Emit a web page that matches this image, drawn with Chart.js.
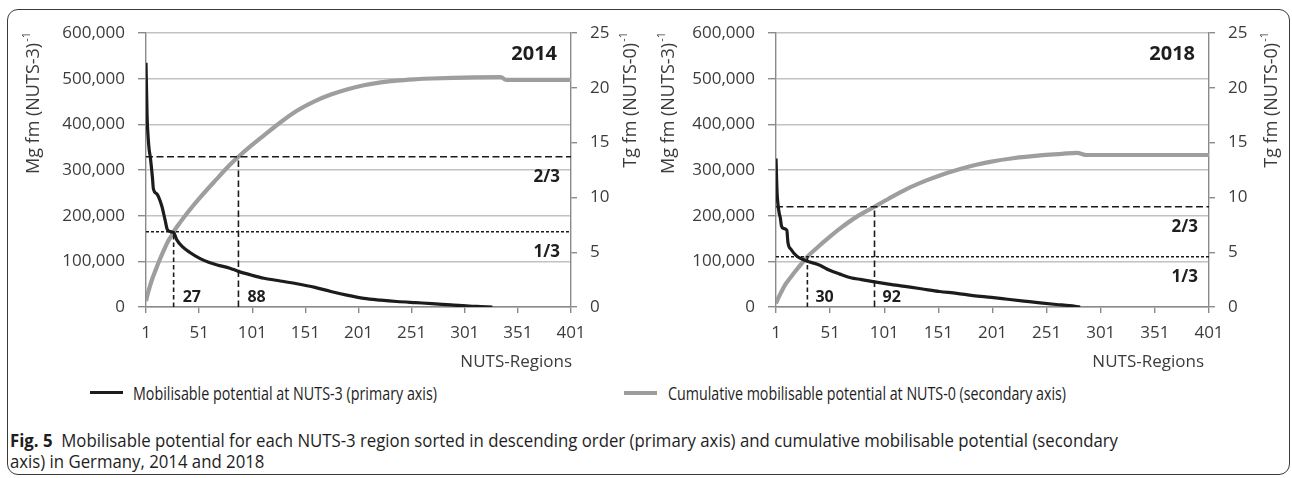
<!DOCTYPE html>
<html>
<head>
<meta charset="utf-8">
<script src="https://cdn.jsdelivr.net/npm/chart.js@4.4.1/dist/chart.umd.min.js"></script>
<style>
  html, body { margin: 0; padding: 0; background: #fff; }
  body { width: 1292px; height: 478px; position: relative; overflow: hidden; font-family: "Open Sans", sans-serif; }
  #frame { position: absolute; left: 7px; top: 9px; width: 1283px; height: 466px; border: 1.3px solid #3a3a3a; border-radius: 11px; box-sizing: border-box; }
  canvas { position: absolute; top: 0; }
  #c2014 { left: 0; }
  #c2018 { left: 650px; }
  .swatch { position: absolute; }
  .txt { position: absolute; white-space: nowrap; transform-origin: 0 50%; color: #1e1e1e; font-size: 18px; line-height: 22px; }
</style>
</head>
<body>
<div id="frame"></div>
<canvas id="c2014" width="660" height="372" style="width:660px;height:372px"></canvas>
<canvas id="c2018" width="642" height="372" style="width:642px;height:372px"></canvas>

<div class="swatch" style="left:90px;top:391px;width:33px;height:3px;background:#1c1c1c"></div>
<div id="leg1" class="txt" style="left:133px;top:382px">Mobilisable potential at NUTS-3 (primary axis)</div>
<div class="swatch" style="left:624px;top:391px;width:33px;height:4px;background:#9c9c9c"></div>
<div id="leg2" class="txt" style="left:668px;top:382px">Cumulative mobilisable potential at NUTS-0 (secondary axis)</div>

<div id="cap1" class="txt" style="left:10px;top:429px"><b>Fig. 5</b>&nbsp; Mobilisable potential for each NUTS-3 region sorted in descending order (primary axis) and cumulative mobilisable potential (secondary</div>
<div id="cap2" class="txt" style="left:10px;top:450px">axis) in Germany, 2014 and 2018</div>

<script>
// x axis: NUTS regions, ticks every 50 starting at 1
const xTickValues = [1, 51, 101, 151, 201, 251, 301, 351, 401];
const primaryTicks = [0, 100000, 200000, 300000, 400000, 500000, 600000];
const secondaryTicks = [0, 5, 10, 15, 20, 25];
const shareLabels = ['1/3', '2/3'];

// 2014: potential per NUTS-3 region (Mg fm), sorted descending
const regions2014 = [1, 2, 3, 4, 5, 7, 8, 11, 13, 16, 19, 21, 24, 27, 30, 35, 42, 52, 60, 68, 80, 88, 100, 112, 125, 143, 160, 175, 190, 206, 222, 237, 255, 270, 288, 305, 316, 327];
const potential2014 = [535000, 420000, 372000, 344000, 329000, 285000, 258000, 248000, 240000, 220000, 190000, 170000, 165000, 163000, 147000, 133000, 120000, 106000, 98000, 92000, 85000, 78000, 70000, 63000, 58000, 51000, 43000, 34000, 26000, 19000, 15000, 12000, 9500, 7500, 4500, 2000, 1000, 0];
// 2014: cumulative potential at NUTS-0 (Tg fm)
const cumRegions2014 = [1, 2, 3, 4, 5, 7, 10, 13, 17, 21, 24, 27, 33, 40, 52, 67, 80, 88, 100, 112, 128, 143, 160, 175, 190, 206, 222, 237, 255, 270, 290, 310, 335, 340, 401];
const cumulative2014 = [0.54, 0.96, 1.33, 1.67, 2.0, 2.6, 3.35, 4.1, 5.0, 5.85, 6.36, 6.86, 7.7, 8.6, 10.0, 11.62, 12.98, 13.71, 14.72, 15.66, 16.88, 17.9, 18.78, 19.38, 19.85, 20.23, 20.49, 20.66, 20.78, 20.85, 20.91, 20.95, 20.97, 20.72, 20.72];
const shareLevels2014 = [6.86, 13.71];
const shareRegions2014 = [27, 88];

// 2018
const regions2018 = [1, 2, 3, 4, 5, 6, 8, 11, 12, 15, 20, 25, 30, 36, 42, 50, 60, 70, 80, 92, 105, 120, 135, 152, 168, 183, 200, 215, 230, 245, 260, 272, 282];
const potential2018 = [325000, 250000, 222000, 205000, 195000, 178000, 172000, 168000, 142000, 126000, 112000, 105000, 100000, 96000, 91000, 81000, 72000, 64000, 60000, 55000, 50000, 45000, 40000, 34000, 30000, 25000, 21000, 17000, 13000, 9000, 5500, 3000, 0];
const cumRegions2018 = [1, 2, 3, 5, 7, 10, 13, 16, 20, 25, 30, 40, 50, 60, 75, 92, 105, 122, 140, 153, 168, 185, 200, 220, 245, 265, 279, 288, 401];
const cumulative2018 = [0.33, 0.58, 0.8, 1.2, 1.58, 2.1, 2.5, 2.9, 3.4, 4.0, 4.59, 5.5, 6.35, 7.15, 8.2, 9.15, 9.88, 10.78, 11.55, 12.03, 12.5, 12.95, 13.27, 13.57, 13.83, 13.97, 14.07, 13.87, 13.87];
const shareLevels2018 = [4.59, 9.15];
const shareRegions2018 = [30, 92];

const FONT = '"Open Sans", sans-serif';
const LABEL_COLOR = '#3c3c3c';
const AXIS_COLOR = '#8a8a8a';
const GRID_COLOR = '#c2c2c2';

const zip = (xs, ys) => xs.map((x, i) => ({ x, y: ys[i] }));
const thousands = v => String(v).replace(/\B(?=(\d{3})+(?!\d))/g, ',');

function drawRotatedTitle(ctx, main, sup, cx, topY) {
  ctx.save();
  ctx.translate(cx, topY);
  ctx.rotate(-Math.PI / 2);
  ctx.fillStyle = LABEL_COLOR;
  ctx.textBaseline = 'middle';
  ctx.textAlign = 'left';
  ctx.font = '18px ' + FONT;
  const wMain = ctx.measureText(main).width;
  ctx.font = '11px ' + FONT;
  const wSup = ctx.measureText(sup).width;
  const total = wMain + 1 + wSup;
  ctx.font = '18px ' + FONT;
  ctx.fillText(main, -total, 0);
  ctx.font = '11px ' + FONT;
  ctx.fillText(sup, -total + wMain + 1, -7);
  ctx.restore();
}

const annotate = {
  id: 'annotate',
  afterDatasetsDraw(chart, args, o) {
    const { ctx, chartArea: a, scales: { x, y2 } } = chart;
    ctx.save();
    ctx.fillStyle = '#1e1e1e';
    ctx.textBaseline = 'middle';
    ctx.textAlign = 'right';
    ctx.font = 'bold 20px ' + FONT;
    ctx.fillText(o.year, a.right - 14, a.top + 21);
    ctx.font = 'bold 17px ' + FONT;
    o.levels.forEach((lv, i) => ctx.fillText(shareLabels[i], a.right - 11, y2.getPixelForValue(lv) + 20.5));
    ctx.textAlign = 'left';
    ctx.font = 'bold 16px ' + FONT;
    o.regions.forEach(r => ctx.fillText(String(r), x.getPixelForValue(r) + o.regionLabelGap, a.bottom - 10));
    ctx.restore();

    drawRotatedTitle(ctx, 'Mg fm (NUTS-3)', '-1', o.yTitleX, a.top - 1);
    drawRotatedTitle(ctx, 'Tg fm (NUTS-0)', '-1', o.y2TitleX, a.top - 1);

    ctx.save();
    ctx.fillStyle = LABEL_COLOR;
    ctx.font = '17px ' + FONT;
    ctx.textAlign = 'right';
    ctx.textBaseline = 'middle';
    ctx.fillText('NUTS-Regions', a.right + o.xTitleShift, a.bottom + 55);
    ctx.restore();
  }
};

function makeChart(id, year, regions, potential, cumRegions, cumulative, levels, shareRegions, L) {
  const dashed = [];
  const hDash = [[3, 2], [7, 3.5]];
  const vDash = [[4.5, 3], [6.5, 3.5]];
  levels.forEach((lv, i) => {
    dashed.push({ data: [{ x: xTickValues[0], y: lv }, { x: xTickValues[xTickValues.length - 1], y: lv }], borderDash: hDash[i] });
    dashed.push({ data: [{ x: shareRegions[i], y: 0 }, { x: shareRegions[i], y: lv }], borderDash: vDash[i] });
  });

  const tickFont = { family: FONT, size: 17 };
  return new Chart(document.getElementById(id), {
    type: 'line',
    data: {
      datasets: [
        ...dashed.map(d => ({
          label: 'share', data: d.data, yAxisID: 'y2', borderColor: '#1a1a1a', borderWidth: 1.6,
          borderDash: d.borderDash, pointRadius: 0, order: 0
        })),
        {
          label: 'Mobilisable potential at NUTS-3 (primary axis)', data: zip(regions, potential), yAxisID: 'y',
          borderColor: '#1c1c1c', borderWidth: 3.2, pointRadius: 0, cubicInterpolationMode: 'monotone', order: 1
        },
        {
          label: 'Cumulative mobilisable potential at NUTS-0 (secondary axis)', data: zip(cumRegions, cumulative), yAxisID: 'y2',
          borderColor: '#9e9e9e', borderWidth: 4.2, pointRadius: 0, cubicInterpolationMode: 'monotone', order: 2
        }
      ]
    },
    options: {
      responsive: false,
      animation: false,
      devicePixelRatio: 1,
      layout: { padding: { top: L.top, left: 0, right: 0, bottom: 0 } },
      plugins: {
        legend: { display: false },
        tooltip: { enabled: false },
        annotate: { year, levels, regions: shareRegions, yTitleX: L.yTitleX, y2TitleX: L.y2TitleX, regionLabelGap: L.regionLabelGap, xTitleShift: L.xTitleShift }
      },
      scales: {
        x: {
          type: 'linear', position: 'bottom', min: xTickValues[0], max: xTickValues[xTickValues.length - 1],
          afterBuildTicks: s => { s.ticks = xTickValues.map(v => ({ value: v })); },
          afterFit: s => { s.height = L.xHeight; },
          grid: { drawOnChartArea: false, drawTicks: true, tickLength: 6, color: AXIS_COLOR, lineWidth: 1.4 },
          border: { display: true, color: AXIS_COLOR, width: 1.4 },
          ticks: { font: tickFont, color: LABEL_COLOR, padding: 10, maxRotation: 0, autoSkip: false }
        },
        y: {
          type: 'linear', position: 'left', min: primaryTicks[0], max: primaryTicks[primaryTicks.length - 1],
          afterBuildTicks: s => { s.ticks = primaryTicks.map(v => ({ value: v })); },
          afterFit: s => { s.width = L.leftWidth; },
          grid: { color: GRID_COLOR, lineWidth: 1.4, tickLength: 8, tickColor: AXIS_COLOR },
          border: { display: true, color: AXIS_COLOR, width: 1.4 },
          ticks: { font: tickFont, color: LABEL_COLOR, padding: 13, callback: v => thousands(v) }
        },
        y2: {
          type: 'linear', position: 'right', min: secondaryTicks[0], max: secondaryTicks[secondaryTicks.length - 1],
          afterBuildTicks: s => { s.ticks = secondaryTicks.map(v => ({ value: v })); },
          afterFit: s => { s.width = L.rightWidth; },
          grid: { drawOnChartArea: false, tickLength: 6, color: AXIS_COLOR, lineWidth: 1.4 },
          border: { display: true, color: AXIS_COLOR, width: 1.4 },
          ticks: { font: tickFont, color: LABEL_COLOR, padding: 13 }
        }
      }
    },
    plugins: [annotate]
  });
}

makeChart('c2014', '2014', regions2014, potential2014, cumRegions2014, cumulative2014, shareLevels2014, shareRegions2014,
  { top: 33, leftWidth: 146, rightWidth: 89, xHeight: 65, yTitleX: 34, y2TitleX: 631, regionLabelGap: 9, xTitleShift: 1 });
makeChart('c2018', '2018', regions2018, potential2018, cumRegions2018, cumulative2018, shareLevels2018, shareRegions2018,
  { top: 33, leftWidth: 126, rightWidth: 83, xHeight: 65, yTitleX: 19, y2TitleX: 622, regionLabelGap: 8, xTitleShift: -5 });

// narrow caption/legend lettering: condense each line to its set width
function condense(el, target) {
  el.style.transform = 'none';
  const w = el.getBoundingClientRect().width;
  const k = target / w;
  el.style.transform = 'scaleX(' + k + ')';
  return k;
}
function layoutText() {
  condense(document.getElementById('leg1'), 304);
  condense(document.getElementById('leg2'), 398);
  const k = condense(document.getElementById('cap1'), 1108);
  document.getElementById('cap2').style.transform = 'scaleX(' + k + ')';
}
layoutText();
</script>
</body>
</html>
